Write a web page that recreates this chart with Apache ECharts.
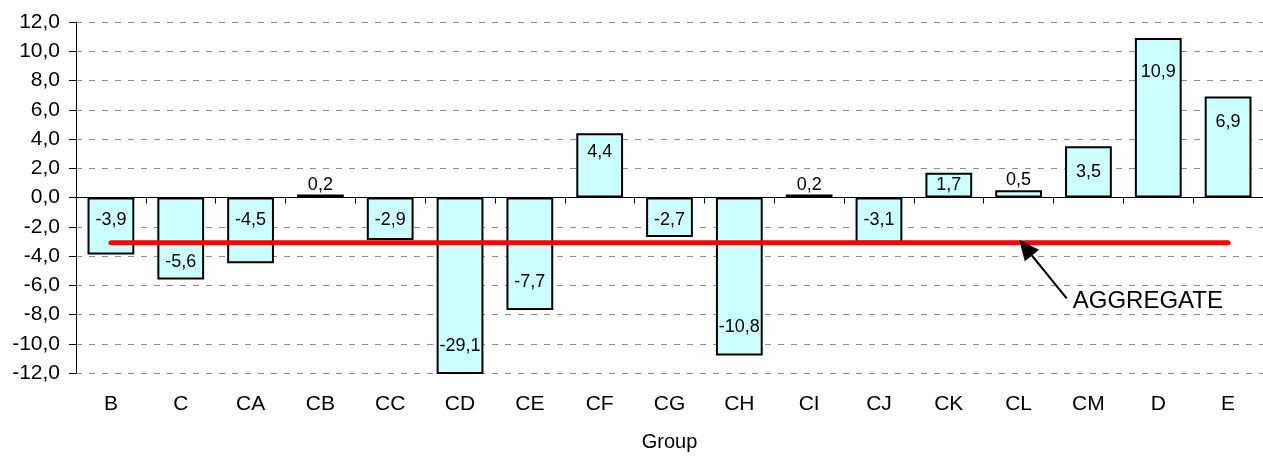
<!DOCTYPE html>
<html>
<head>
<meta charset="utf-8">
<script src="https://cdn.jsdelivr.net/npm/echarts@6/dist/echarts.min.js"></script>
<style>
html,body{margin:0;padding:0;background:#fff;}
#chart{width:1263px;height:457px;}
</style>
</head>
<body>
<div id="chart"></div>
<script>
const categories = ['B','C','CA','CB','CC','CD','CE','CF','CG','CH','CI','CJ','CK','CL','CM','D','E'];
const values = [-3.9,-5.6,-4.5,0.2,-2.9,-29.1,-7.7,4.4,-2.7,-10.8,0.2,-3.1,1.7,0.5,3.5,10.9,6.9];
const aggregate = [-3.1,-3.1,-3.1,-3.1,-3.1,-3.1,-3.1,-3.1,-3.1,-3.1,-3.1,-3.1,-3.1,-3.1,-3.1,-3.1,-3.1];
const yMin = -12, yMax = 12, yStep = 2;
const axisTitle = 'Group';
const noteText = 'AGGREGATE';

const FONT = "'Liberation Sans', Arial, sans-serif";
const fmt = v => v.toFixed(1).replace('.', ',');

function labelFor(v) {
  if (v < -7) return { position: 'insideBottom', distance: 19 };
  if (v < -5) return { position: 'insideBottom', distance: 8 };
  if (v < 0) return { position: 'insideTop', distance: 14 };
  if (v <= 1) return { position: 'top', distance: 1 };
  if (v < 4) return { position: 'inside' };
  return { position: 'insideTop', distance: Math.round(v * 2.3) };
}

const barData = values.map(v => ({ value: v, label: labelFor(v) }));

const chart = echarts.init(document.getElementById('chart'), null, { renderer: 'canvas' });
chart.setOption({
  animation: false,
  backgroundColor: '#ffffff',
  textStyle: { fontFamily: FONT },
  grid: { left: 76, top: 22, width: 1198, height: 356, containLabel: false },
  xAxis: [
    {
      type: 'category',
      data: categories,
      position: 'bottom',
      axisLine: { show: false, onZero: false },
      axisTick: { show: false },
      axisLabel: { color: '#000', fontSize: 21, fontFamily: FONT, margin: 21 },
      name: axisTitle,
      nameLocation: 'middle',
      nameGap: 59,
      nameTextStyle: { color: '#000', fontSize: 20, fontFamily: FONT },
      splitLine: { show: false }
    },
    {
      type: 'category',
      data: categories,
      position: 'top',
      axisLine: { show: true, onZero: true, onZeroAxisIndex: 0, lineStyle: { color: '#000', width: 1 } },
      axisTick: { show: true, inside: true, length: 6, alignWithLabel: false, lineStyle: { color: '#000' } },
      axisLabel: { show: false },
      splitLine: { show: false }
    }
  ],
  yAxis: {
    type: 'value',
    min: yMin, max: yMax, interval: yStep,
    axisLine: { show: true, lineStyle: { color: '#000', width: 1 } },
    axisTick: { show: true, length: 7, lineStyle: { color: '#000' } },
    axisLabel: { color: '#000', fontSize: 21, fontFamily: FONT, margin: 16, formatter: fmt },
    splitLine: { show: true, lineStyle: { color: '#8c8c8c', width: 1, type: [6, 7] } }
  },
  series: [
    {
      type: 'bar',
      xAxisIndex: 0,
      data: barData,
      barCategoryGap: '33%',
      itemStyle: { color: '#ccffff', borderColor: '#000', borderWidth: 2 },
      label: { show: true, color: '#000', fontSize: 18, fontFamily: FONT, formatter: p => fmt(p.value) },
      z: 2
    },
    {
      type: 'line',
      xAxisIndex: 0,
      data: aggregate,
      symbol: 'none',
      lineStyle: { color: '#ff0000', width: 5, cap: 'round' },
      z: 5
    }
  ],
  graphic: [
    { type: 'line', shape: { x1: 1066.7, y1: 298.3, x2: 1031.9, y2: 255.5 }, style: { stroke: '#000', lineWidth: 2 }, z: 10 },
    { type: 'polygon', shape: { points: [[1019.3, 240], [1039, 249.8], [1024.8, 261.3]] }, style: { fill: '#000' }, z: 10 },
    { type: 'text', x: 1072.7, y: 301, style: { text: noteText, fill: '#000', font: "24px 'Liberation Sans', Arial, sans-serif", verticalAlign: 'middle', align: 'left' }, z: 10 }
  ]
});
</script>
</body>
</html>
